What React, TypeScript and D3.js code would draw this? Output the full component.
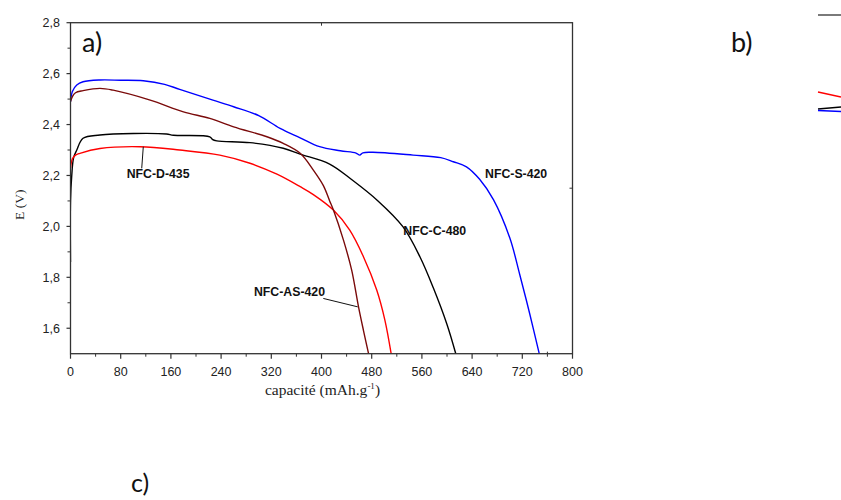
import React from "react";
import * as d3 from "d3";

const W = 841;
const H = 500;

// Series (capacity mAh/g, E in V)
const capS = [0, 3, 10, 20, 47, 80, 116, 150, 174, 227, 260, 300, 334, 366, 397, 430, 455, 461, 466, 482, 546, 590, 610, 631, 652, 674, 700, 716, 732, 747];
const eS = [2.49, 2.53, 2.555, 2.568, 2.575, 2.574, 2.572, 2.558, 2.538, 2.496, 2.47, 2.435, 2.385, 2.348, 2.313, 2.297, 2.288, 2.28, 2.289, 2.291, 2.28, 2.27, 2.254, 2.234, 2.185, 2.105, 1.955, 1.81, 1.655, 1.5];

const capC = [0, 0, 2, 5, 10, 20, 47, 100, 153, 164, 222, 226, 233, 286, 339, 366, 413, 449, 490, 530, 557, 578, 600, 614];
const eC = [1.86, 2.1, 2.2, 2.27, 2.3, 2.346, 2.359, 2.365, 2.363, 2.358, 2.352, 2.342, 2.336, 2.329, 2.307, 2.284, 2.245, 2.182, 2.1, 1.998, 1.88, 1.76, 1.615, 1.5];

const capD = [0, 3, 8, 15, 47, 111, 174, 238, 286, 329, 366, 387, 419, 445, 467, 488, 501, 511];
const eD = [2.23, 2.265, 2.28, 2.287, 2.306, 2.313, 2.3, 2.28, 2.248, 2.205, 2.156, 2.125, 2.064, 1.985, 1.88, 1.75, 1.632, 1.5];

const capAS = [0, 3, 8, 20, 47, 68, 127, 180, 222, 260, 313, 339, 366, 387, 403, 413, 419, 435, 448, 459, 467, 475];
const eAS = [2.49, 2.51, 2.525, 2.533, 2.542, 2.535, 2.496, 2.45, 2.424, 2.391, 2.352, 2.326, 2.287, 2.221, 2.16, 2.1, 2.064, 1.946, 1.829, 1.684, 1.59, 1.5];

const seriesNames = ["NFC-S-420", "NFC-C-480", "NFC-D-435", "NFC-AS-420"];
const seriesColors = ["#0000ff", "#000000", "#ff0000", "#7a0a0a"];

// Annotation anchors (data units)
const labelNames = ["NFC-D-435", "NFC-S-420", "NFC-C-480", "NFC-AS-420"];
const labelCap = [89.5, 660.6, 530.4, 292.4];
const labelE = [2.191, 2.189, 1.966, 1.726];
const leaderFromCap = [113.5, 402.9];
const leaderFromE = [2.228, 1.717];
const leaderToCap = [116, 457.7];
const leaderToE = [2.313, 1.684];

const xTickValues = [0, 80, 160, 240, 320, 400, 480, 560, 640, 720, 800];
const yTickValues = [1.6, 1.8, 2.0, 2.2, 2.4, 2.6, 2.8];

// fragment of panel b (cut at the right edge)
const fragX = [0, 1];
const fragRed = [2.528, 2.508];
const fragBlack = [2.461, 2.469];
const fragBlue = [2.455, 2.451];

export default function App() {
  const left = 70.5, right = 572.5, top = 22.7, bottom = 353.7;
  const x = d3.scaleLinear().domain([0, 800]).range([left, right]);
  const y = d3.scaleLinear().domain([1.5, 2.8]).range([bottom, top]);

  const line = d3
    .line<[number, number]>()
    .x((d) => x(d[0]))
    .y((d) => y(d[1]))
    .curve(d3.curveCatmullRom.alpha(0.5));

  const series = [
    { c: capS, e: eS },
    { c: capC, e: eC },
    { c: capD, e: eD },
    { c: capAS, e: eAS },
  ];

  const xMinor = d3.range(40, 800, 80);
  const yMinor = d3.range(1.7, 2.8, 0.2);

  const fx = d3.scaleLinear().domain([0, 1]).range([818, 841]);
  const fline = d3
    .line<[number, number]>()
    .x((d) => fx(d[0]))
    .y((d) => y(d[1]));

  const frame = "#333";
  const sans = "'Liberation Sans', Arial, sans-serif";
  const serif = "'Liberation Serif', 'Times New Roman', serif";

  return (
    <svg
      width={W}
      height={H}
      style={{ position: "absolute", left: 0, top: 0, background: "#fff" }}
      xmlns="http://www.w3.org/2000/svg"
    >
      <rect width={W} height={H} fill="#fff" />
      <defs>
        <clipPath id="plot">
          <rect x={left} y={top} width={right - left} height={bottom - top} />
        </clipPath>
      </defs>

      {/* curves */}
      <g clipPath="url(#plot)">
        {series.map((s, i) => (
          <path
            key={seriesNames[i]}
            d={line(s.c.map((c, j) => [c, s.e[j]] as [number, number])) || ""}
            fill="none"
            stroke={seriesColors[i]}
            strokeWidth={1.4}
          />
        ))}
      </g>

      {/* frame */}
      <rect x={left} y={top} width={right - left} height={bottom - top} fill="none" stroke={frame} strokeWidth={1.3} />

      {/* bottom ticks */}
      {xTickValues.map((v) => (
        <g key={"xt" + v}>
          <line x1={x(v)} x2={x(v)} y1={bottom} y2={bottom + 5} stroke={frame} strokeWidth={1.2} />
          <text x={x(v)} y={bottom + 22} textAnchor="middle" fontFamily={sans} fontSize={12.5} fill="#222">
            {v}
          </text>
        </g>
      ))}
      {xMinor.map((v) => (
        <line key={"xm" + v} x1={x(v)} x2={x(v)} y1={bottom} y2={bottom + 3} stroke={frame} strokeWidth={1} />
      ))}

      {/* left ticks */}
      {yTickValues.map((v) => (
        <g key={"yt" + v}>
          <line x1={left - 4} x2={left} y1={y(v)} y2={y(v)} stroke={frame} strokeWidth={1.2} />
          <text x={left - 10.5} y={y(v)} dy="0.36em" textAnchor="end" fontFamily={sans} fontSize={12.5} fill="#222">
            {d3.format(".1f")(v).replace(".", ",")}
          </text>
        </g>
      ))}
      {yMinor.map((v) => (
        <line key={"ym" + v} x1={left - 3} x2={left} y1={y(v)} y2={y(v)} stroke={frame} strokeWidth={1} />
      ))}

      {/* top / right single ticks */}
      <line x1={x(400)} x2={x(400)} y1={top} y2={top + 3} stroke={frame} strokeWidth={1} />
      <line x1={right - 3} x2={right} y1={y(2.15)} y2={y(2.15)} stroke={frame} strokeWidth={1} />
      <line x1={x(760)} x2={x(760)} y1={bottom} y2={bottom - 2} stroke={frame} strokeWidth={1} />

      {/* axis titles */}
      <text transform={`translate(${24},${204.7}) rotate(-90)`} textAnchor="middle" fontFamily={serif} fontSize={13.5} fill="#222">
        E (V)
      </text>
      <text x={322.5} y={395} textAnchor="middle" fontFamily={serif} fontSize={15.5} fill="#222">
        capacité (mAh.g
        <tspan dy={-6} fontSize={9}>-1</tspan>
        <tspan dy={6}>)</tspan>
      </text>

      {/* annotations */}
      {labelNames.map((t, i) => (
        <text key={t} x={x(labelCap[i])} y={y(labelE[i])} fontFamily={sans} fontWeight="bold" fontSize={12.3} fill="#111">
          {t}
        </text>
      ))}
      {leaderFromCap.map((c, i) => (
        <line
          key={"ld" + i}
          x1={x(c)}
          y1={y(leaderFromE[i])}
          x2={x(leaderToCap[i])}
          y2={y(leaderToE[i])}
          stroke="#111"
          strokeWidth={1}
        />
      ))}

      {/* panel letters */}
      <text x={82} y={51.5} fontFamily="Lato, 'Open Sans', sans-serif" fontSize={27} fill="#111">
        a)
      </text>
      <text x={731} y={51.5} fontFamily="Lato, 'Open Sans', sans-serif" fontSize={27} fill="#111">
        b)
      </text>
      <text x={131} y={492} fontFamily="Lato, 'Open Sans', sans-serif" fontSize={25} fill="#111">
        c)
      </text>

      {/* fragment of panel b */}
      <line x1={fx(0)} x2={fx(1)} y1={15} y2={15} stroke="#222" strokeWidth={1.2} />
      <path d={fline(fragX.map((v, i) => [v, fragRed[i]] as [number, number])) || ""} stroke="#ff0000" strokeWidth={1.4} fill="none" />
      <path d={fline(fragX.map((v, i) => [v, fragBlack[i]] as [number, number])) || ""} stroke="#000" strokeWidth={1.6} fill="none" />
      <path d={fline(fragX.map((v, i) => [v, fragBlue[i]] as [number, number])) || ""} stroke="#0000ff" strokeWidth={1.4} fill="none" />
    </svg>
  );
}
